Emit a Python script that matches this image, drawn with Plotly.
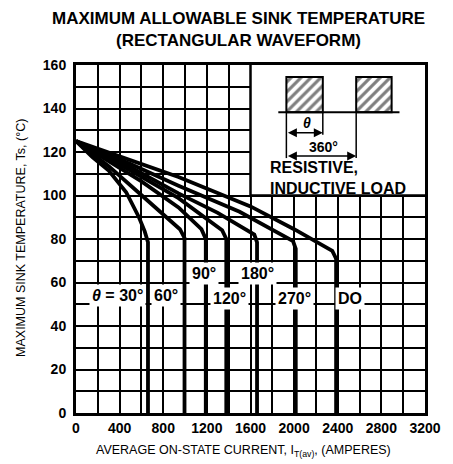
import plotly.graph_objects as go

FONT = "Liberation Sans"

# ---------------- data ----------------
labels = ["θ = 30°", "60°", "90°", "120°", "180°", "270°", "DO"]

i_30 = [0, 150, 300, 460, 577, 630, 660, 660]
t_30 = [125, 117.7, 111.5, 101.5, 90, 83.5, 78.5, 0]

i_60 = [0, 300, 604, 953, 995, 995]
t_60 = [125, 113.5, 100, 84.5, 80.5, 0]

i_90 = [0, 600, 940, 1150, 1190, 1190]
t_90 = [125, 106.5, 94.5, 84.5, 80, 0]

i_120 = [0, 500, 940, 1340, 1378, 1378]
t_120 = [125, 111.5, 98.8, 84, 80, 0]

i_180 = [0, 500, 940, 1300, 1635, 1660, 1660]
t_180 = [125, 113, 101, 92, 82, 78.5, 0]

i_270 = [0, 500, 940, 1500, 1990, 2015, 2015]
t_270 = [125, 114.5, 104.5, 92.5, 79, 75.5, 0]

i_do = [0, 500, 940, 1600, 2000, 2350, 2385, 2385]
t_do = [125, 116, 108.5, 95, 84.5, 74.5, 71, 0]

curves_i = [i_30, i_60, i_90, i_120, i_180, i_270, i_do]
curves_t = [t_30, t_60, t_90, t_120, t_180, t_270, t_do]

# label anchor positions (current, temperature)
label_i = [640, 825, 1172, 1406, 1668, 2004, 2510]
label_t = [53.8, 53.8, 64, 52.6, 64, 52.8, 52.8]
label_anchor = ["right", "center", "center", "center", "center", "center", "center"]

x_ticks = [0, 400, 800, 1200, 1600, 2000, 2400, 2800, 3200]
y_ticks = [0, 20, 40, 60, 80, 100, 120, 140, 160]

# inset (waveform sketch) geometry in data units
inset_i = [1600, 3200]
inset_t = [100, 160]
pulse1_i = [1929, 2263]
pulse2_i = [2569, 2894]
pulse_t = [138.3, 154.5]
base_i = [1855, 2966]
theta_arrow_t = 128.9
full_arrow_t = 118.2

# page body adds an 8px offset; figure sized so plot area lands at x 76-431, y 65-413
OFF = 8
W, H = 453 - OFF, 464 - OFF
ML, MR, MT, MB = 76 - OFF, 22, 65 - OFF, 51
PW, PH = W - ML - MR, H - MT - MB

fig = go.Figure()

# white inset area (covers grid)
fig.add_trace(go.Scatter(
    x=[inset_i[0], inset_i[1], inset_i[1], inset_i[0], inset_i[0]],
    y=[inset_t[0], inset_t[0], inset_t[1], inset_t[1], inset_t[0]],
    mode="lines", fill="toself", fillcolor="white",
    line=dict(color="white", width=0), hoverinfo="skip"))
# inset border (left and bottom)
fig.add_trace(go.Scatter(
    x=[inset_i[0], inset_i[0], inset_i[1]],
    y=[inset_t[1], inset_t[0], inset_t[0]],
    mode="lines", line=dict(color="black", width=2.5), hoverinfo="skip"))

# hatched pulses
for p in (pulse1_i, pulse2_i):
    fig.add_trace(go.Scatter(
        x=[p[0], p[1], p[1], p[0], p[0]],
        y=[pulse_t[0], pulse_t[0], pulse_t[1], pulse_t[1], pulse_t[0]],
        mode="lines", fill="toself", fillcolor="white",
        fillpattern=dict(shape="/", fgcolor="black", bgcolor="white",
                         size=7, solidity=0.45),
        line=dict(color="black", width=2), hoverinfo="skip"))

# baseline
fig.add_trace(go.Scatter(x=base_i, y=[pulse_t[0], pulse_t[0]], mode="lines",
                         line=dict(color="black", width=2), hoverinfo="skip"))
# extension lines
fig.add_trace(go.Scatter(
    x=[pulse1_i[0], pulse1_i[0], None, pulse1_i[1], pulse1_i[1], None,
       pulse2_i[0], pulse2_i[0]],
    y=[pulse_t[0], full_arrow_t - 1, None, pulse_t[0], theta_arrow_t - 1, None,
       pulse_t[0], full_arrow_t - 1],
    mode="lines", line=dict(color="black", width=1.5), hoverinfo="skip"))

# curves
for ci, ct in zip(curves_i, curves_t):
    fig.add_trace(go.Scatter(x=ci, y=ct, mode="lines",
                             line=dict(color="black", width=3.8),
                             hoverinfo="skip"))

annotations = []
# curve labels
for txt, li, lt, anc in zip(labels, label_i, label_t, label_anchor):
    txt = txt.replace("θ", "<i>θ</i>")
    annotations.append(dict(
        x=li, y=lt, xref="x", yref="y", text=txt, showarrow=False,
        xanchor=anc, yanchor="middle", bgcolor="white", borderpad=2,
        font=dict(family=FONT, size=16, color="black", weight="bold")))

# dimension arrows
for a0, a1, yy in ((pulse1_i[0], pulse1_i[1], theta_arrow_t),
                   (pulse1_i[0], pulse2_i[0], full_arrow_t)):
    annotations.append(dict(
        x=a1, y=yy, ax=a0, ay=yy, xref="x", yref="y", axref="x", ayref="y",
        text="", showarrow=True, arrowhead=2, arrowside="end+start",
        arrowsize=1.2, arrowwidth=1.5, arrowcolor="black"))


def px_x(px):
    return (px - 76) / PW


def px_y(py):
    return (413 - py) / PH


annotations += [
    dict(x=(pulse1_i[0] + pulse1_i[1]) / 2 + 20, y=133.2, xref="x", yref="y",
         text="<i>θ</i>", showarrow=False,
         font=dict(family=FONT, size=14, color="black", weight="bold")),
    dict(x=(pulse1_i[0] + pulse2_i[0]) / 2 + 20, y=122.3, xref="x", yref="y",
         text="360°", showarrow=False,
         font=dict(family=FONT, size=14, color="black", weight="bold")),
    dict(x=1760, y=108.2, xref="x", yref="y", text="RESISTIVE,<br>INDUCTIVE LOAD",
         showarrow=False, xanchor="left", yanchor="middle", align="left",
         font=dict(family=FONT, size=16, color="black", weight="bold")),
    # title
    dict(x=px_x(241.5), y=px_y(29), xref="paper", yref="paper",
         text="MAXIMUM ALLOWABLE SINK TEMPERATURE<br>(RECTANGULAR WAVEFORM)",
         showarrow=False, xanchor="center", yanchor="middle",
         font=dict(family=FONT, size=17, color="black", weight="bold")),
    # axis titles
    dict(x=px_x(246), y=px_y(451), xref="paper", yref="paper",
         text="AVERAGE ON-STATE CURRENT, I<sub>T(av)</sub>, (AMPERES)",
         showarrow=False, xanchor="center", yanchor="middle",
         font=dict(family=FONT, size=12.5, color="black")),
    dict(x=px_x(20), y=px_y(238), xref="paper", yref="paper",
         text="MAXIMUM SINK TEMPERATURE, Ts, (°C)", textangle=-90,
         showarrow=False, xanchor="center", yanchor="middle",
         font=dict(family=FONT, size=12.5, color="black")),
]

axis_common = dict(
    showgrid=True, gridcolor="black", gridwidth=1.8,
    showline=True, linecolor="black", linewidth=3, mirror=True,
    zeroline=False, ticks="",
    tickfont=dict(family=FONT, size=14, color="black", weight="bold"),
)

fig.update_layout(
    width=W, height=H,
    margin=dict(l=ML, r=MR, t=MT, b=MB),
    plot_bgcolor="white", paper_bgcolor="white",
    showlegend=False,
    annotations=annotations,
    xaxis=dict(range=[0, 3200], tickvals=x_ticks,
               minor=dict(dtick=200, tick0=0, showgrid=True,
                          gridcolor="black", gridwidth=1.8),
               **axis_common),
    yaxis=dict(range=[0, 160], tickvals=y_ticks, ticklabelstandoff=4,
               minor=dict(dtick=10, tick0=0, showgrid=True,
                          gridcolor="black", gridwidth=1.8),
               **axis_common),
)

fig.write_html("out.html")
